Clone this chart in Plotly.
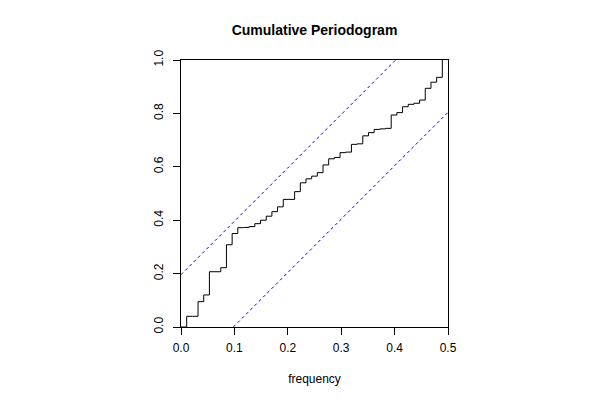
import plotly.graph_objects as go

# Fourier frequencies (k/94, k = 0..46)
freq = [0.0, 0.010638, 0.021277, 0.031915, 0.042553, 0.053191, 0.06383, 0.074468,
        0.085106, 0.095745, 0.106383, 0.117021, 0.12766, 0.138298, 0.148936, 0.159574,
        0.170213, 0.180851, 0.191489, 0.202128, 0.212766, 0.223404, 0.234043, 0.244681,
        0.255319, 0.265957, 0.276596, 0.287234, 0.297872, 0.308511, 0.319149, 0.329787,
        0.340426, 0.351064, 0.361702, 0.37234, 0.382979, 0.393617, 0.404255, 0.414894,
        0.425532, 0.43617, 0.446809, 0.457447, 0.468085, 0.478723, 0.489362]
# cumulative periodogram values
cum = [0.0, 0.040, 0.040, 0.095, 0.120, 0.207, 0.207, 0.222, 0.308, 0.350,
       0.372, 0.373, 0.376, 0.387, 0.400, 0.415, 0.432, 0.450, 0.478, 0.478,
       0.507, 0.540, 0.555, 0.565, 0.578, 0.607, 0.630, 0.635, 0.653, 0.655,
       0.684, 0.686, 0.716, 0.728, 0.740, 0.742, 0.744, 0.794, 0.803, 0.825,
       0.834, 0.838, 0.850, 0.894, 0.917, 0.935, 1.0]

xmax = 0.5
crit = 0.196
x_ticks = [0.0, 0.1, 0.2, 0.3, 0.4, 0.5]
y_ticks = [0.0, 0.2, 0.4, 0.6, 0.8, 1.0]

FONT = "Liberation Sans, Arial, Helvetica, sans-serif"

# page body has an 8px margin, so the figure is sized 592x392
W, H = 592, 392
L, R, T, B = 172.7, 151.7, 52, 73

fig = go.Figure()
fig.add_trace(go.Scatter(x=freq, y=cum, mode="lines", line=dict(color="black", width=1, shape="hv"),
                         showlegend=False, hoverinfo="skip"))
fig.add_trace(go.Scatter(x=[0, xmax * (1 - crit)], y=[crit, 1], mode="lines",
                         line=dict(color="blue", width=1, dash="3px,3px"), showlegend=False))
fig.add_trace(go.Scatter(x=[xmax * crit, xmax], y=[0, 1 - crit], mode="lines",
                         line=dict(color="blue", width=1, dash="3px,3px"), showlegend=False))

fig.update_layout(
    width=W, height=H,
    paper_bgcolor="white", plot_bgcolor="white",
    margin=dict(l=L, r=R, t=T, b=B, pad=0, autoexpand=False),
    title=dict(text="<b>Cumulative Periodogram</b>", x=(L + (W - R)) / 2 / W, xanchor="center",
               y=1 - 22 / H, yanchor="middle",
               font=dict(family=FONT, size=14, color="black")),
    font=dict(family=FONT, size=12, color="black"),
)
fig.update_xaxes(range=[0, xmax], tickvals=x_ticks, ticktext=[f"{v:.1f}" for v in x_ticks],
                 showgrid=False, zeroline=False, showline=True, mirror=True, linecolor="black",
                 linewidth=1, ticks="outside", ticklen=7, tickcolor="black", tickwidth=1,
                 automargin=False, ticklabelstandoff=3,
                 title=dict(text="frequency", font=dict(size=12), standoff=20))
fig.update_yaxes(range=[0, 1], tickvals=y_ticks, ticktext=[f"{v:.1f}" for v in y_ticks],
                 showgrid=False, zeroline=False, showline=True, mirror=True, linecolor="black",
                 linewidth=1, ticks="outside", ticklen=7, tickcolor="black", tickwidth=1,
                 automargin=False, tickangle=-90, ticklabelstandoff=5)

fig.write_html("out.html")
